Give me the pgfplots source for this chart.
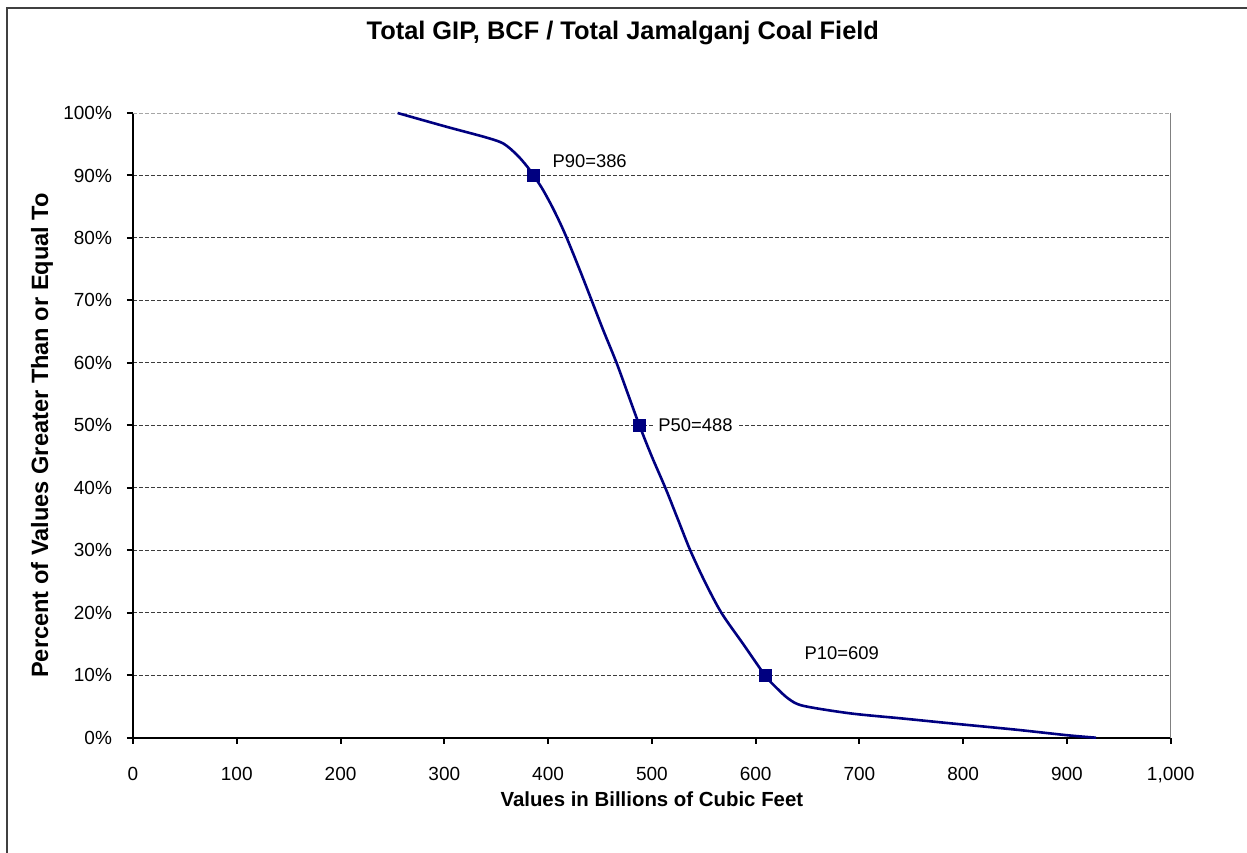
\documentclass[border=0pt]{standalone}
\usepackage{pgfplots}
\pgfplotsset{compat=1.18}
\usepackage{fontspec}
\setmainfont{Liberation Sans}
\definecolor{curve}{RGB}{0,0,128}
\definecolor{gridgray}{RGB}{60,60,60}
\begin{document}
\begin{tikzpicture}
\useasboundingbox (-66.5pt,-57.15pt) rectangle (557pt,368.85pt);
% outer chart frame (cut at right and bottom)
\draw[line width=0.8pt, black!75] (-63pt,-60pt) -- (-63pt,364.85pt) -- (560pt,364.85pt);
\begin{axis}[
    at={(0,0)}, anchor=origin,
    scale only axis,
    width=518.85pt, height=312.35pt,
    xmin=0, xmax=1000,
    ymin=0, ymax=100,
    xtick={0,100,...,1000},
    ytick={0,10,...,90},
    axis lines=left,
    axis line style={-, line width=1.2pt, black},
    tick align=outside,
    major tick length=3pt,
    tick style={line width=1pt, black},
    ymajorgrids,
    grid style={dash pattern=on 2pt off 1pt, gridgray, line width=0.5pt},
    extra y ticks={100},
    extra y tick style={grid style={dash pattern=on 2pt off 1pt, gray!70, line width=0.5pt}},
    /pgf/number format/assume math mode=true,
    /pgf/number format/1000 sep={,},
    yticklabel={\pgfmathprintnumber{\tick}\%},
    ticklabel style={font=\fontsize{9.5}{11}\selectfont},
    xticklabel style={yshift=-8pt},
    yticklabel style={xshift=-4pt},
    xlabel={Values in Billions of Cubic Feet},
    ylabel={Percent of Values Greater Than or Equal To},
    xlabel style={font=\bfseries\fontsize{10.2}{12}\selectfont, at={(axis description cs:0.5,0)}, anchor=center, yshift=-31pt},
    ylabel style={font=\bfseries\fontsize{11.8}{13}\selectfont, at={(axis description cs:0,0.5)}, anchor=center, yshift=45.5pt, xshift=-5pt},
    title={Total GIP, BCF / Total Jamalganj Coal Field},
    title style={font=\bfseries\fontsize{12.7}{14}\selectfont, at={(axis description cs:0.472,1.109)}, anchor=center},
    clip=false,
]
\draw[gray, line width=0.6pt] (rel axis cs:1,0) -- (rel axis cs:1,1);

\addplot[curve, line width=1.3pt, smooth, tension=0.5] coordinates {
    (255,100) (302,97.8) (340,96.1) (357,95.1) (370,93.3) (380,91.4)
    (386,90) (394,88) (403,85.3) (411,82.6) (418,80) (430,75.1) (442,70)
    (453,65.3) (466,60) (477,55) (488,50) (500,45) (513,40) (525,35)
    (537,30) (551,25) (567,20) (588,15) (609,10) (620,8) (632,6.2)
    (646,5.1) (691,3.9) (740,3.1) (788,2.3) (850,1.3) (900,0.4) (928,0)
};

\addplot[only marks, mark=square*, mark size=3pt, curve, mark options={fill=curve, draw=curve}] coordinates {
    (386,90) (488,50) (609,10)
};

\node[anchor=west, font=\fontsize{9.2}{11}\selectfont, inner sep=1pt] at (axis cs:402,92.3) {P90=386};
\node[anchor=west, font=\fontsize{9.2}{11}\selectfont, fill=white, inner sep=2pt] at (axis cs:502,50) {P50=488};
\node[anchor=west, font=\fontsize{9.2}{11}\selectfont, inner sep=1pt] at (axis cs:645,13.5) {P10=609};
\end{axis}
\end{tikzpicture}
\end{document}
